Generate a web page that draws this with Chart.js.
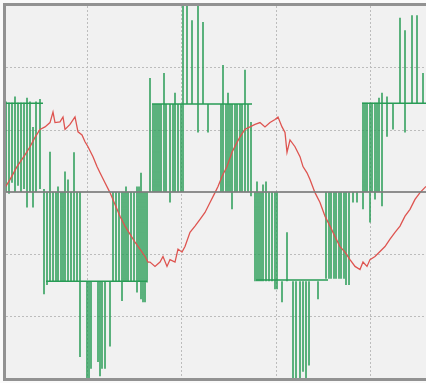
<!DOCTYPE html>
<html>
<head>
<meta charset="utf-8">
<script src="https://cdn.jsdelivr.net/npm/chart.js@4/dist/chart.umd.min.js"></script>
<style>
html,body{margin:0;padding:0;background:#fafafa;}
canvas{display:block;}
</style>
</head>
<body>
<canvas id="c" width="426" height="383"></canvas>
<script>
// ---- data (x = sample index, y = volts) ----
const gridX = [87, 181, 276, 370];

const redX = [5,10,17,25,30,35,40,45,50,53,55,60,63,65,70,75,78,82,85,88,93,97,100,105,110,115,120,125,130,135,140,145,148,150,155,160,163,167,170,175,178,182,185,190,195,200,205,210,215,218,222,227,232,237,240,245,250,255,260,265,270,275,278,282,285,287,290,295,300,303,307,310,315,320,325,330,335,340,345,350,355,360,363,367,370,375,380,385,390,395,400,405,410,415,420,426];
const redY = [7,20,41,60,73,88,101,105,112,129,112,113,121,101,109,121,97,92,81,73,57,41,31,15,-1,-20,-39,-55,-68,-81,-92,-104,-113,-113,-120,-113,-104,-120,-109,-113,-92,-97,-88,-65,-55,-44,-33,-17,-1,9,25,41,64,80,89,101,105,109,112,105,112,117,121,105,96,64,84,73,57,41,31,20,-1,-17,-39,-55,-72,-88,-97,-109,-120,-125,-113,-120,-109,-104,-96,-88,-76,-65,-55,-39,-28,-12,-1,9];

// vertical switching edges of the inverter output
const segX    = [6,9,12,15,18,21,24,27,30,33,36,40, 44,47,50,53,56,58,61,63,65,68,71,74,77, 80,87,89,91,98,100,102,105,110, 113,116,119,122,124,126,128,131,134,137,139,141,143,145,147, 150,153,155,157,159,161,164,166,170,173,175,178,181, 183,187,192,198,203,208, 221,223,226,228,230,232,235,237,240,242,245,248,251, 255,257,259,261,263,266,269,272,275,277, 282,287,293,296,300,303,306,309,318, 326,329,331,334,336,339,341,344,346,349, 353,357, 363,365,367,370,372,375,377,379,382,387, 393,400,405,412,417,423];
const segFrom = [146,144,144,154,144,144,144,152,146,105,146,150, 5,0,65,0,0,9,0,0,33,20,0,64,0, 0,-144,-144,-144,-144,-144,-144,-144,-144, -144,-144,-144,-176,-144,-144,-144,-144,-144,-162,-144,31,-178,-178,-146, 0,0,0,0,0,0,0,0,-17,0,0,0,0, 0,142,142,96,142,142, 142,205,142,160,142,142,142,142,142,142,197,142,113, 0,17,0,0,12,17,0,0,0,0, -144,-144,-144,-144,-144,-144,-144,-144,-144, -140,-140,-140,-140,-140,-140,-140,-140,-150,-150, 0,0, 144,144,144,144,144,144,144,152,160,154, 142,142,261,142,142,142];
const segTo   = [0,-3,15,0,10,0,5,-25,0,-25,0,5, -165,-150,-144,-144,-144,-144,-144,-144,-144,-144,-144,-144,-144, -266,-300,-300,-285,-274,-297,-285,-285,-249, 0,0,0,0,0,9,0,0,0,9,9,-173,0,0,0, 184,142,142,142,142,142,192,142,142,142,160,142,142, 300,300,277,300,274,96, 0,0,0,0,0,-28,0,0,0,0,0,0,-7, -144,-144,-144,-144,-144,-144,-144,-144,-157,-157, -178,-65,-300,-300,-300,-290,-300,-280,-173, 0,0,0,0,0,0,0,0,0,0, -17,-17, -28,0,0,-49,0,-12,0,0,-23,89, 101,281,96,285,285,192];

// DC-link plateaus
const platStart = [5, 46, 152, 256, 362];
const platEnd   = [43, 147, 252, 328, 426];
const platLevel = [143, -144, 142, -142, 143];

// ---- build datasets ----
const redData = redX.map((x, i) => ({x: x, y: redY[i]}));
const segData = [];
segX.forEach((x, i) => {
  segData.push({x: x, y: segFrom[i]}, {x: x, y: segTo[i]}, {x: x, y: null});
});
const platData = [];
platStart.forEach((s, i) => {
  platData.push({x: s, y: platLevel[i]}, {x: platEnd[i], y: platLevel[i]}, {x: platEnd[i], y: null});
});

const frame = {
  id: 'frame',
  beforeDraw(chart) {
    const {ctx, chartArea: a} = chart;
    ctx.save();
    ctx.fillStyle = '#fafafa';
    ctx.fillRect(0, 0, chart.width, chart.height);
    ctx.fillStyle = '#f1f1f1';
    ctx.fillRect(a.left, a.top, a.right - a.left, a.bottom - a.top);
    ctx.restore();
  },
  afterDatasetsDraw(chart) {
    const {ctx, chartArea: a, scales} = chart;
    const y0 = scales.y.getPixelForValue(0);
    ctx.save();
    ctx.strokeStyle = 'rgba(125,125,125,0.85)';
    ctx.lineWidth = 2;
    ctx.beginPath();
    ctx.moveTo(a.left, y0);
    ctx.lineTo(a.right, y0);
    ctx.stroke();
    ctx.restore();
  },
  afterDraw(chart) {
    const {ctx, chartArea: a} = chart;
    ctx.save();
    ctx.strokeStyle = '#929292';
    ctx.lineWidth = 3;
    ctx.beginPath();
    ctx.moveTo(chart.width, a.top - 1.5);
    ctx.lineTo(a.left - 1.5, a.top - 1.5);
    ctx.lineTo(a.left - 1.5, a.bottom + 1.5);
    ctx.lineTo(chart.width, a.bottom + 1.5);
    ctx.stroke();
    ctx.restore();
  }
};

new Chart(document.getElementById('c'), {
  type: 'line',
  data: {
    datasets: [
      {data: redData, borderColor: '#de5450', borderWidth: 1.3, pointRadius: 0, tension: 0, fill: false},
      {data: segData, borderColor: 'rgb(40,156,86)', borderWidth: 1.5, pointRadius: 0, spanGaps: false, fill: false},
      {data: platData, borderColor: 'rgb(40,156,86)', borderWidth: 1.5, pointRadius: 0, spanGaps: false, fill: false}
    ]
  },
  options: {
    responsive: false,
    devicePixelRatio: 1,
    animation: false,
    events: [],
    layout: {padding: {left: 6, top: 6, right: 0, bottom: 5}},
    plugins: {legend: {display: false}, tooltip: {enabled: false}},
    scales: {
      x: {
        type: 'linear', min: 6, max: 426,
        afterBuildTicks: axis => { axis.ticks = gridX.map(v => ({value: v})); },
        ticks: {display: false},
        grid: {color: '#bcbcbc', lineWidth: 1, drawTicks: false},
        border: {display: false, dash: [2, 2]}
      },
      y: {
        type: 'linear', min: -300, max: 300,
        ticks: {display: false, stepSize: 100},
        grid: {color: ctx => (ctx.tick && (ctx.tick.value === 0 || Math.abs(ctx.tick.value) === 300)) ? 'rgba(0,0,0,0)' : '#bcbcbc', lineWidth: 1, drawTicks: false},
        border: {display: false, dash: [2, 2]}
      }
    }
  },
  plugins: [frame]
});
</script>
</body>
</html>
